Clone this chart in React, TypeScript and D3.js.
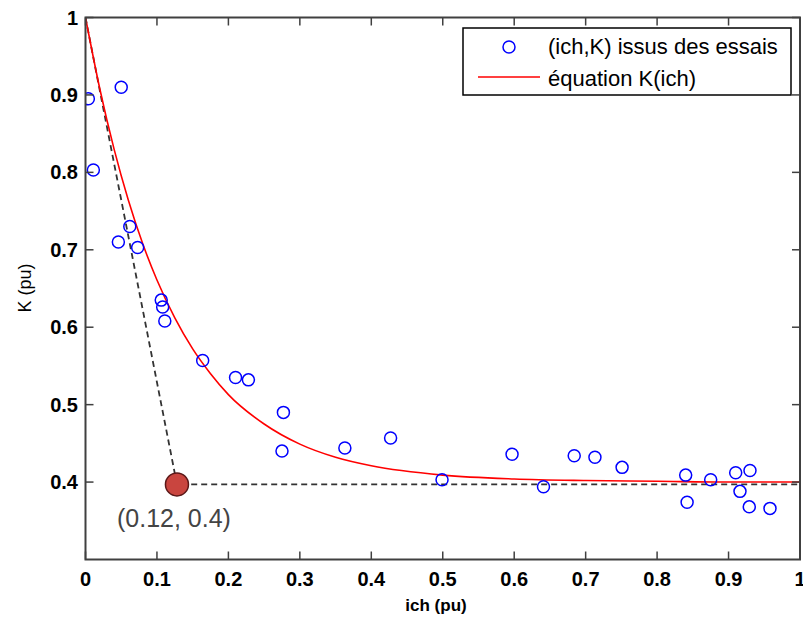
import React from "react";
import * as d3 from "d3";

// Measured points (ich, K)
const ichData = [0.004, 0.011, 0.05, 0.046, 0.062, 0.073, 0.106, 0.108, 0.111, 0.164, 0.21, 0.228, 0.277, 0.275, 0.363, 0.427, 0.499, 0.597, 0.641, 0.684, 0.713, 0.751, 0.84, 0.842, 0.875, 0.91, 0.93, 0.916, 0.929, 0.958];
const kData = [0.895, 0.803, 0.91, 0.71, 0.73, 0.703, 0.635, 0.626, 0.608, 0.557, 0.535, 0.532, 0.49, 0.44, 0.444, 0.457, 0.403, 0.436, 0.394, 0.434, 0.432, 0.419, 0.409, 0.374, 0.403, 0.412, 0.415, 0.388, 0.368, 0.366];

// Equation curve K(ich)
const curveIch = [0, 0.02, 0.04, 0.06, 0.08, 0.1, 0.125, 0.15, 0.175, 0.2, 0.25, 0.3, 0.35, 0.4, 0.5, 0.6, 0.7, 0.8, 0.9, 1.0];
const curveK = [1.0, 0.908, 0.83, 0.764, 0.708, 0.661, 0.612, 0.572, 0.54, 0.513, 0.475, 0.449, 0.432, 0.421, 0.409, 0.404, 0.402, 0.401, 0.4, 0.4];

// Tangent construction
const tangentIch = [0, 0.128, 1.0];
const tangentK = [1.0, 0.397, 0.397];
const markerPoint = { ich: 0.128, k: 0.397, label: "(0.12, 0.4)" };

const xTicks = [0, 0.1, 0.2, 0.3, 0.4, 0.5, 0.6, 0.7, 0.8, 0.9, 1];
const yTicks = [0.4, 0.5, 0.6, 0.7, 0.8, 0.9, 1];
const xTickLabels = ["0", "0.1", "0.2", "0.3", "0.4", "0.5", "0.6", "0.7", "0.8", "0.9", "1"];
const yTickLabels = ["0.4", "0.5", "0.6", "0.7", "0.8", "0.9", "1"];
const legendLabels = ["(ich,K) issus des essais", "équation K(ich)"];

const W = 803;
const H = 620;
const L = 85.5, R = 800, T = 17.5, B = 559.5;

export default function App() {
  const x = d3.scaleLinear().domain([0, 1]).range([L, R]);
  const y = d3.scaleLinear().domain([0.3, 1]).range([B, T]);
  const curve = d3.line<number>().x((_, i) => x(curveIch[i])).y((_, i) => y(curveK[i])).curve(d3.curveMonotoneX)(curveIch) || "";
  const tangent = d3.line<number>().x((_, i) => x(tangentIch[i])).y((_, i) => y(tangentK[i]))(tangentIch) || "";
  const axisColor = "#404040";
  const tickFont = "'Liberation Sans', Arial, sans-serif";
  return (
    <svg width={W} height={H} style={{ position: "absolute", left: 0, top: 0, background: "#fff" }}>
      <defs>
        <clipPath id="plot"><rect x={L} y={T} width={R - L} height={B - T} /></clipPath>
      </defs>
      <rect x={0} y={0} width={W} height={H} fill="#fff" />
      <g clipPath="url(#plot)">
        <path d={tangent} fill="none" stroke="#333" strokeWidth={1.8} strokeDasharray="6,4" />
        <path d={curve} fill="none" stroke="#ff0000" strokeWidth={1.6} />
        {ichData.map((v, i) => (
          <circle key={i} cx={x(v)} cy={y(kData[i])} r={6} fill="none" stroke="#0000ff" strokeWidth={1.5} />
        ))}
      </g>
      <circle cx={x(markerPoint.ich)} cy={y(markerPoint.k)} r={11.5} fill="#c9453f" stroke="#5a1818" strokeWidth={1.5} />
      <text x={x(markerPoint.ich) - 60} y={y(markerPoint.k) + 43} fontFamily={tickFont} fontSize={25} fill="#444">{markerPoint.label}</text>
      {/* frame */}
      <rect x={L} y={T} width={R - L} height={B - T} fill="none" stroke={axisColor} strokeWidth={2} />
      {xTicks.map((t, i) => (
        <g key={"x" + i}>
          <line x1={x(t)} x2={x(t)} y1={B} y2={B - 8} stroke={axisColor} strokeWidth={1.5} />
          <line x1={x(t)} x2={x(t)} y1={T} y2={T + 8} stroke={axisColor} strokeWidth={1.5} />
          <text x={x(t)} y={586} textAnchor="middle" fontFamily={tickFont} fontWeight="bold" fontSize={20} fill="#000">{xTickLabels[i]}</text>
        </g>
      ))}
      {yTicks.map((t, i) => (
        <g key={"y" + i}>
          <line x1={L} x2={L + 8} y1={y(t)} y2={y(t)} stroke={axisColor} strokeWidth={1.5} />
          <line x1={R} x2={R - 8} y1={y(t)} y2={y(t)} stroke={axisColor} strokeWidth={1.5} />
          <text x={78} y={y(t) + 7} textAnchor="end" fontFamily={tickFont} fontWeight="bold" fontSize={20} fill="#000">{yTickLabels[i]}</text>
        </g>
      ))}
      <text x={436} y={611} textAnchor="middle" fontFamily={tickFont} fontWeight="bold" fontSize={17} fill="#000">ich (pu)</text>
      <text transform={`translate(31,288) rotate(-90)`} textAnchor="middle" fontFamily={tickFont} fontSize={18} fill="#000">K (pu)</text>
      {/* legend */}
      <rect x={463} y={28} width={328} height={67} fill="#fff" stroke="#000" strokeWidth={1.5} />
      <circle cx={509} cy={47} r={6} fill="none" stroke="#0000ff" strokeWidth={1.5} />
      <line x1={478} x2={540} y1={77} y2={77} stroke="#ff0000" strokeWidth={1.5} />
      <text x={548} y={54} fontFamily={tickFont} fontSize={22} fill="#000">{legendLabels[0]}</text>
      <text x={548} y={86} fontFamily={tickFont} fontSize={22} fill="#000">{legendLabels[1]}</text>
    </svg>
  );
}
